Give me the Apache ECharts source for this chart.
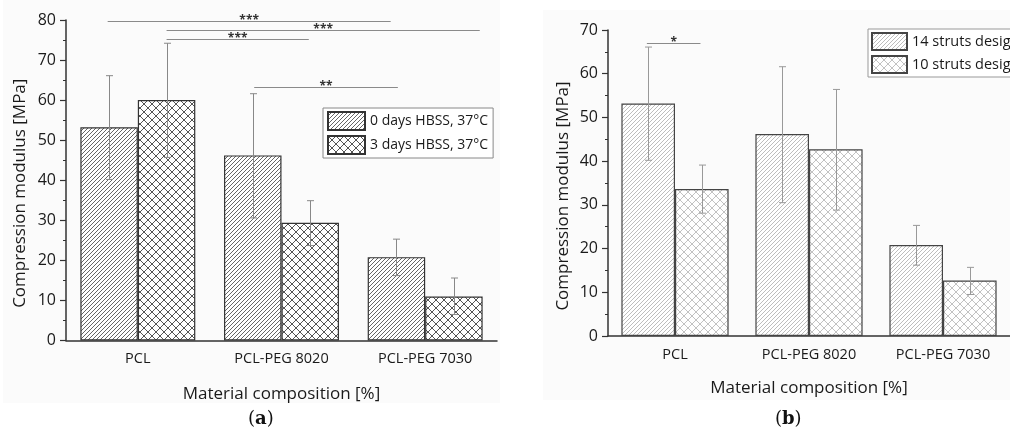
<!DOCTYPE html>
<html>
<head>
<meta charset="utf-8">
<script src="https://cdn.jsdelivr.net/npm/echarts@6/dist/echarts.min.js"></script>
<style>
  html, body { margin: 0; padding: 0; background: #fff; }
  #main { width: 1010px; height: 437px; }
</style>
</head>
<body>
<div id="main"></div>
<script type="text/javascript">

	// categories shared by both panels
	var categories = ['PCL', 'PCL-PEG 8020', 'PCL-PEG 7030'];

	// (a) degradation in HBSS
	var dayNames = ['0 days HBSS, 37°C', '3 days HBSS, 37°C'];
	var day0Mean = [53.2, 46.2, 20.8];
	var day0Low = [40.2, 30.6, 16.2];
	var day0High = [66.1, 61.6, 25.3];
	var day3Mean = [60.0, 29.4, 11.0];
	var day3Low = [45.7, 23.7, 6.5];
	var day3High = [74.2, 34.9, 15.6];

	// (a) significance bars, x in category units (0..3), y in MPa
	var sigAFrom = [0.29, 0.70, 0.70, 1.31];
	var sigATo = [2.26, 2.88, 1.69, 2.31];
	var sigAY = [79.8, 77.6, 75.2, 63.3];
	var sigALabel = ['***', '***', '***', '**'];

	// (b) strut design
	var strutNames = ['14 struts design', '10 struts design'];
	var struts14Mean = [53.2, 46.2, 20.8];
	var struts14Low = [40.2, 30.5, 16.2];
	var struts14High = [66.1, 61.6, 25.3];
	var struts10Mean = [33.6, 42.7, 12.7];
	var struts10Low = [28.1, 28.8, 9.5];
	var struts10High = [39.1, 56.4, 15.7];

	var sigBFrom = [0.29];
	var sigBTo = [0.69];
	var sigBY = [67.0];
	var sigBLabel = ['*'];

	var yTicksA = [0, 80, 10];
	var yTicksB = [0, 70, 10];

	var FONT = '"Open Sans", sans-serif';
	var INK = '#1a1a1a';

	function hatch(color, size, cross) {
		var c = document.createElement('canvas');
		c.width = size; c.height = size;
		var g = c.getContext('2d');
		g.fillStyle = '#fff';
		g.fillRect(0, 0, size, size);
		g.strokeStyle = color;
		g.lineWidth = 1;
		g.beginPath();
		g.moveTo(-1, size + 1); g.lineTo(size + 1, -1);
		g.moveTo(-2, 2); g.lineTo(2, -2);
		g.moveTo(size - 2, size + 2); g.lineTo(size + 2, size - 2);
		if (cross) {
			g.moveTo(-1, -1); g.lineTo(size + 1, size + 1);
			g.moveTo(-2, size - 2); g.lineTo(2, size + 2);
			g.moveTo(size - 2, -2); g.lineTo(size + 2, 2);
		}
		g.stroke();
		return { image: c, repeat: 'repeat' };
	}

	function errorBars(low, high, side, color, xi, yi) {
		return {
			type: 'custom',
			xAxisIndex: xi,
			yAxisIndex: yi,
			z: 10,
			silent: true,
			data: categories.map(function (c, i) { return [i, low[i], high[i]]; }),
			renderItem: function (params, api) {
				var lo = api.coord([api.value(0), api.value(1)]);
				var hi = api.coord([api.value(0), api.value(2)]);
				var band = api.size([1, 0])[0];
				var x = Math.round(lo[0] + side * band * 0.2) + 0.5;
				var st = { stroke: color, lineWidth: 1 };
				return {
					type: 'group',
					children: [
						{ type: 'line', shape: { x1: x, y1: lo[1], x2: x, y2: hi[1] }, style: st },
						{ type: 'line', shape: { x1: x - 3.5, y1: hi[1], x2: x + 3.5, y2: hi[1] }, style: st },
						{ type: 'line', shape: { x1: x - 3.5, y1: lo[1], x2: x + 3.5, y2: lo[1] }, style: st }
					]
				};
			}
		};
	}

	function sigBars(from, to, ys, labels, xi, yi) {
		return {
			type: 'custom',
			xAxisIndex: xi,
			yAxisIndex: yi,
			z: 10,
			silent: true,
			data: from.map(function (f, i) { return [f, ys[i], to[i]]; }),
			renderItem: function (params, api) {
				var a = api.coord([api.value(0), api.value(1)]);
				var b = api.coord([api.value(2), api.value(1)]);
				var y = Math.round(a[1]) + 0.5;
				return {
					type: 'group',
					children: [
						{ type: 'line', shape: { x1: a[0], y1: y, x2: b[0], y2: y }, style: { stroke: '#8a8a8a', lineWidth: 1 } },
						{ type: 'text', x: (a[0] + b[0]) / 2, y: y - 1,
						  style: { text: labels[params.dataIndex], fill: '#333', font: 'bold 12px ' + FONT, align: 'center', verticalAlign: 'middle' } }
					]
				};
			}
		};
	}

	function valueAxis(grid, ticks, nameGap) {
		return {
			type: 'value',
			gridIndex: grid,
			min: ticks[0], max: ticks[1], interval: ticks[2],
			name: 'Compression modulus [MPa]',
			nameLocation: 'middle',
			nameGap: nameGap,
			nameTextStyle: { fontFamily: FONT, fontSize: 17, color: INK, padding: [0, 26, 0, 0] },
			axisLine: { show: true, lineStyle: { color: '#333', width: 1.5 } },
			axisTick: { show: true, length: 6, lineStyle: { color: '#333', width: 1.2 } },
			minorTick: { show: true, splitNumber: 2, length: 3, lineStyle: { color: '#333', width: 1 } },
			axisLabel: { fontFamily: FONT, fontSize: 16, color: INK, margin: 10 },
			splitLine: { show: false }
		};
	}

	function catAxis(grid, nameGap) {
		return {
			type: 'category',
			gridIndex: grid,
			data: categories,
			name: 'Material composition [%]',
			nameLocation: 'middle',
			nameGap: nameGap,
			nameTextStyle: { fontFamily: FONT, fontSize: 17, color: INK },
			axisLine: { lineStyle: { color: '#333', width: 1.5 } },
			axisTick: { alignWithLabel: true, length: 6, lineStyle: { color: '#333', width: 1.2 } },
			axisLabel: { fontFamily: FONT, fontSize: 14.5, color: INK, margin: 11 }
		};
	}

	function hiddenX(grid) {
		return { type: 'value', gridIndex: grid, min: 0, max: 3, show: false };
	}

	var patA0 = hatch('#666', 4, false);
	var patA3 = hatch('#555', 8, true);
	var patB14 = hatch('#bdbdbd', 4, false);
	var patB10 = hatch('#c2c2c2', 8, true);

	var chart = echarts.init(document.getElementById('main'));
	chart.setOption({
		backgroundColor: '#fff',
		animation: false,
		graphic: [
			{ type: 'rect', z: -10, shape: { x: 3, y: 0, width: 497, height: 403 }, style: { fill: '#fbfbfb' } },
			{ type: 'rect', z: -10, shape: { x: 543, y: 10, width: 467, height: 390 }, style: { fill: '#fbfbfb' } },
			{ type: 'text', left: 248, top: 410, z: 20,
			  style: { text: '{p|(}{b|a}{p|)}', rich: {
				p: { fontFamily: '"DejaVu Serif", serif', fontSize: 18, fill: '#111' },
				b: { fontFamily: '"DejaVu Serif", serif', fontSize: 18, fontWeight: 'bold', fill: '#111' } } } },
			{ type: 'text', left: 775, top: 410, z: 20,
			  style: { text: '{p|(}{b|b}{p|)}', rich: {
				p: { fontFamily: '"DejaVu Serif", serif', fontSize: 18, fill: '#111' },
				b: { fontFamily: '"DejaVu Serif", serif', fontSize: 18, fontWeight: 'bold', fill: '#111' } } } }
		],
		grid: [
			{ left: 66, top: 20, width: 431, height: 320.5 },
			{ left: 608, top: 30, width: 411, height: 306 }
		],
		legend: [
			{
				data: dayNames, orient: 'vertical', left: 323, top: 108,
				icon: 'rect', itemWidth: 37, itemHeight: 18, itemGap: 4,
				padding: [3, 5, 3, 4], borderColor: '#888', borderWidth: 1, backgroundColor: '#fff',
				textStyle: { fontFamily: FONT, fontSize: 14, color: INK }
			},
			{
				data: strutNames, orient: 'vertical', left: 868, top: 29,
				icon: 'rect', itemWidth: 35, itemHeight: 17, itemGap: 4,
				padding: [3, 6, 3, 3], borderColor: '#999', borderWidth: 1, backgroundColor: '#fff',
				textStyle: { fontFamily: FONT, fontSize: 14.5, color: INK }
			}
		],
		xAxis: [catAxis(0, 45), hiddenX(0), catAxis(1, 44), hiddenX(1)],
		yAxis: [valueAxis(0, yTicksA, 37), valueAxis(1, yTicksB, 36)],
		series: [
			{
				name: dayNames[0], type: 'bar', xAxisIndex: 0, yAxisIndex: 0,
				barGap: '0%', barCategoryGap: '20%', data: day0Mean,
				itemStyle: { color: patA0, borderColor: '#333', borderWidth: 1.2 }
			},
			{
				name: dayNames[1], type: 'bar', xAxisIndex: 0, yAxisIndex: 0,
				barGap: '0%', barCategoryGap: '20%', data: day3Mean,
				itemStyle: { color: patA3, borderColor: '#333', borderWidth: 1.2 }
			},
			{
				name: strutNames[0], type: 'bar', xAxisIndex: 2, yAxisIndex: 1,
				barGap: '0%', barCategoryGap: '20%', data: struts14Mean,
				itemStyle: { color: patB14, borderColor: '#444', borderWidth: 1.2 }
			},
			{
				name: strutNames[1], type: 'bar', xAxisIndex: 2, yAxisIndex: 1,
				barGap: '0%', barCategoryGap: '20%', data: struts10Mean,
				itemStyle: { color: patB10, borderColor: '#444', borderWidth: 1.2 }
			},
			errorBars(day0Low, day0High, -1, '#888', 0, 0),
			errorBars(day3Low, day3High, 1, '#888', 0, 0),
			errorBars(struts14Low, struts14High, -1, '#999', 2, 1),
			errorBars(struts10Low, struts10High, 1, '#999', 2, 1),
			sigBars(sigAFrom, sigATo, sigAY, sigALabel, 1, 0),
			sigBars(sigBFrom, sigBTo, sigBY, sigBLabel, 3, 1)
		]
	});

</script>
</body>
</html>
